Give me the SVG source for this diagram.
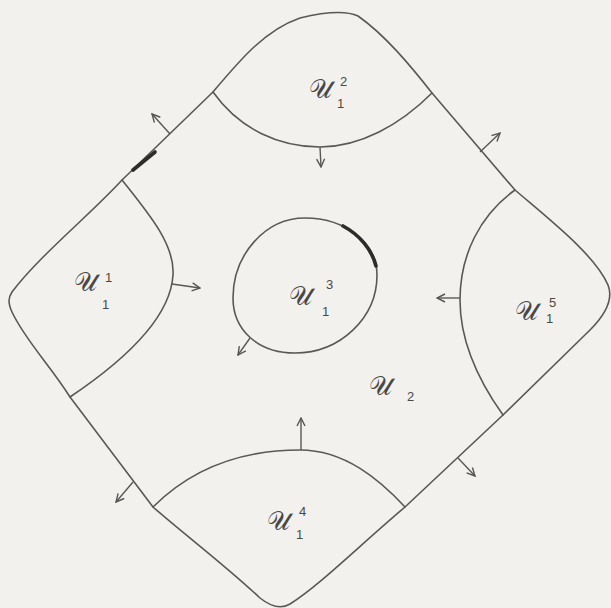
<svg xmlns="http://www.w3.org/2000/svg" width="611" height="608" viewBox="0 0 611 608">
<defs>
<marker id="ah" viewBox="0 0 10 10" refX="9" refY="5" markerWidth="10" markerHeight="10" markerUnits="userSpaceOnUse" orient="auto">
<path d="M1,1 L9,5 L1,9" fill="none" stroke="#555" stroke-width="1.4"/>
</marker>
<style>
.ln{fill:none;stroke:#5a5856;stroke-width:1.6;stroke-linecap:round;stroke-linejoin:round}
.thk{fill:none;stroke:#2e2c2a;stroke-width:3.6;stroke-linecap:round}
.ar{fill:none;stroke:#5a5856;stroke-width:1.4;marker-end:url(#ah)}
.m{font-family:"DejaVu Serif","Liberation Serif",serif;font-size:26px;fill:#4a4846}
.s{font-family:"Liberation Sans",sans-serif;font-size:13px;fill:#4a4846}
</style>
</defs>
<rect width="611" height="608" fill="#f3f1ee"/>
<g id="U2">
<path class="ln" d="M12,292 C40,255 90,215 122,180 L213,92 C240,60 265,30 300,18 C325,12 345,10 358,16 C385,35 410,65 432,93 L515,190 C550,220 595,255 608,285 C614,300 605,315 590,330 L503,415 L405,507 C360,545 320,585 290,604 C280,610 270,606 260,598 C225,565 185,535 153,507 L70,397 C50,365 25,340 12,312 C8,303 8,298 12,292 Z"/>
<path class="thk" d="M133,170 L155,152"/>
<text class="m" x="369" y="395">𝒰</text><text class="s" x="407" y="401">2</text>
</g>
<g id="U1-2">
<path class="ln" d="M213,92 C240,130 280,147 320,147 C360,147 400,125 432,93"/>
<text class="m" x="309" y="98">𝒰</text><text class="s" x="340" y="86">2</text><text class="s" x="337" y="108">1</text>
</g>
<g id="U1-1">
<path class="ln" d="M122,180 C150,215 175,245 173,275 C171,310 140,350 70,397"/>
<text class="m" x="74" y="291">𝒰</text><text class="s" x="105" y="282">1</text><text class="s" x="102" y="309">1</text>
</g>
<g id="U1-3">
<path class="ln" d="M305,218 C345,218 377,243 377,275 C377,318 340,353 295,353 C258,353 233,330 233,298 C233,255 265,218 305,218 Z"/>
<path class="thk" d="M343,226 C360,235 372,250 376,266"/>
<text class="m" x="289" y="305">𝒰</text><text class="s" x="326" y="289">3</text><text class="s" x="322" y="316">1</text>
</g>
<g id="U1-5">
<path class="ln" d="M515,190 C480,215 460,255 460,300 C460,340 478,380 503,415"/>
<text class="m" x="515" y="320">𝒰</text><text class="s" x="549" y="307">5</text><text class="s" x="546" y="323">1</text>
</g>
<g id="U1-4">
<path class="ln" d="M153,507 C190,470 240,450 300,450 C345,450 380,480 405,507"/>
<text class="m" x="267" y="530">𝒰</text><text class="s" x="299" y="516">4</text><text class="s" x="296" y="539">1</text>
</g>
<g id="connectors">
<line class="ar" x1="320" y1="147" x2="321" y2="167"/>
<line class="ar" x1="172" y1="284" x2="200" y2="288"/>
<line class="ar" x1="460" y1="298" x2="437" y2="298"/>
<line class="ar" x1="301" y1="450" x2="301" y2="418"/>
<line class="ar" x1="250" y1="338" x2="238" y2="355"/>
<line class="ar" x1="170" y1="134" x2="152" y2="114"/>
<line class="ar" x1="480" y1="152" x2="500" y2="133"/>
<line class="ar" x1="458" y1="458" x2="475" y2="476"/>
<line class="ar" x1="133" y1="482" x2="116" y2="502"/>
</g>
</svg>
